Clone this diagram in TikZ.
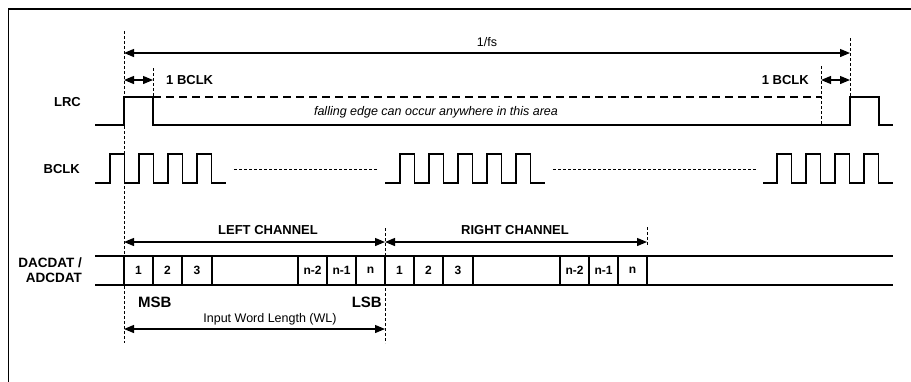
\documentclass[tikz,border=0pt]{standalone}
\usepackage{fontspec}
\setmainfont{Liberation Sans}
\usetikzlibrary{arrows.meta}
\begin{document}
\begin{tikzpicture}[x=1pt,y=-1pt,
  wave/.style={line width=1.4pt, line join=miter},
  guide/.style={line width=0.7pt, dash pattern=on 3pt off 2pt},
  dotline/.style={line width=0.8pt, dash pattern=on 3pt off 2pt},
  dim/.style={line width=1.2pt, {Triangle[length=10pt,width=8pt]}-{Triangle[length=10pt,width=8pt]}},
  lbl/.style={font=\fontsize{13}{15}\selectfont\bfseries, inner sep=0pt},
  txt/.style={font=\fontsize{12.5}{14}\selectfont, inner sep=0pt},
  cell/.style={font=\fontsize{12}{13}\selectfont\bfseries, inner sep=0pt}]
\useasboundingbox (0,0) rectangle (911,381);
% frame
\draw[line width=1.3pt] (8.5,390) |- (920,9);

% guide lines
\draw[guide] (124,31) -- (124,343);
\draw[guide] (153,68) -- (153,97);
\draw[guide] (850,38) -- (850,97);
\draw[guide] (821,66) -- (821,125);
\draw[guide] (385,228) -- (385,343);
\draw[guide] (647,227) -- (647,246);

% 1/fs
\coordinate (fsL) at (124,53);
\coordinate (fsR) at (850,53);
\draw[dim] (fsL) -- (fsR);
\node[txt] (fs) at (487,42) {1/fs};

% 1 BCLK markers
\coordinate (b1L) at (124,80);
\coordinate (b1R) at (153,80);
\draw[dim] (b1L) -- (b1R);
\node[lbl, anchor=west] (bclk1) at (166,80) {1 BCLK};
\coordinate (b2L) at (821,80);
\coordinate (b2R) at (850,80);
\draw[dim] (b2L) -- (b2R);
\node[lbl, anchor=east] (bclk2) at (809,80) {1 BCLK};

% LRC
\node[lbl, anchor=east] (lrc) at (81,102) {LRC};
\draw[wave] (95,125) -- (124,125) -- (124,97) -- (153,97) -- (153,125) -- (850,125)
  -- (850,97) -- (879,97) -- (879,125) -- (893,125);
\draw[line width=1.2pt, dash pattern=on 8pt off 5pt] (153,97) -- (821,97);
\node[txt, font=\fontsize{12.5}{14}\selectfont\itshape] (fall) at (436,112) {falling edge can occur anywhere in this area};

% BCLK
\node[lbl, anchor=east] (bclk) at (80,169) {BCLK};
\draw[wave] (95,183) -- (110,183) \foreach \i in {1,...,4}{ -- ++(0,-29) -- ++(14.5,0) -- ++(0,29) -- ++(14.5,0)};
\draw[wave] (385,183) -- (400,183) \foreach \i in {1,...,5}{ -- ++(0,-29) -- ++(14.5,0) -- ++(0,29) -- ++(14.5,0)};
\draw[wave] (763,183) -- (777,183) \foreach \i in {1,...,4}{ -- ++(0,-29) -- ++(14.5,0) -- ++(0,29) -- ++(14.5,0)};
\draw[dotline] (234,169) -- (378,169);
\draw[dotline] (553,169) -- (756,169);

% channels
\coordinate (lcL) at (124,242);
\coordinate (lcR) at (385,242);
\coordinate (rcR) at (647,242);
\draw[dim] (lcL) -- (lcR);
\draw[dim] (lcR) -- (rcR);
\node[lbl] (lch) at (268,230) {LEFT CHANNEL};
\node[lbl] (rch) at (515,230) {RIGHT CHANNEL};

% data
\node[lbl, anchor=east, align=right, font=\fontsize{13.5}{15}\selectfont\bfseries] (dat) at (82,270) {DACDAT /\\ADCDAT};
\draw[wave] (95,256) -- (893,256);
\draw[wave] (95,285) -- (893,285);
\foreach \x in {124,153,182,212,298,327,356,385,414,443,473,560,589,618,647}
  \draw[wave] (\x,256) -- (\x,285);
\node[cell] (c1) at (138.5,270) {1};
\node[cell] (c2) at (167.5,270) {2};
\node[cell] (c3) at (197,270) {3};
\node[cell] (c4) at (312.5,270) {n-2};
\node[cell] (c5) at (341.5,270) {n-1};
\node[cell] (c6) at (370.5,270) {n};
\node[cell] (d1) at (399.5,270) {1};
\node[cell] (d2) at (428.5,270) {2};
\node[cell] (d3) at (458,270) {3};
\node[cell] (d4) at (574.5,270) {n-2};
\node[cell] (d5) at (603.5,270) {n-1};
\node[cell] (d6) at (632.5,270) {n};

% MSB / LSB / WL
\node[lbl, font=\fontsize{15}{17}\selectfont\bfseries, anchor=west] (msb) at (138,302) {MSB};
\node[lbl, font=\fontsize{15}{17}\selectfont\bfseries, anchor=east] (lsb) at (382,302) {LSB};
\coordinate (wlL) at (124,329);
\coordinate (wlR) at (385,329);
\draw[dim] (wlL) -- (wlR);
\node[txt] (wl) at (270,319) {Input Word Length (WL)};
\end{tikzpicture}
\end{document}
